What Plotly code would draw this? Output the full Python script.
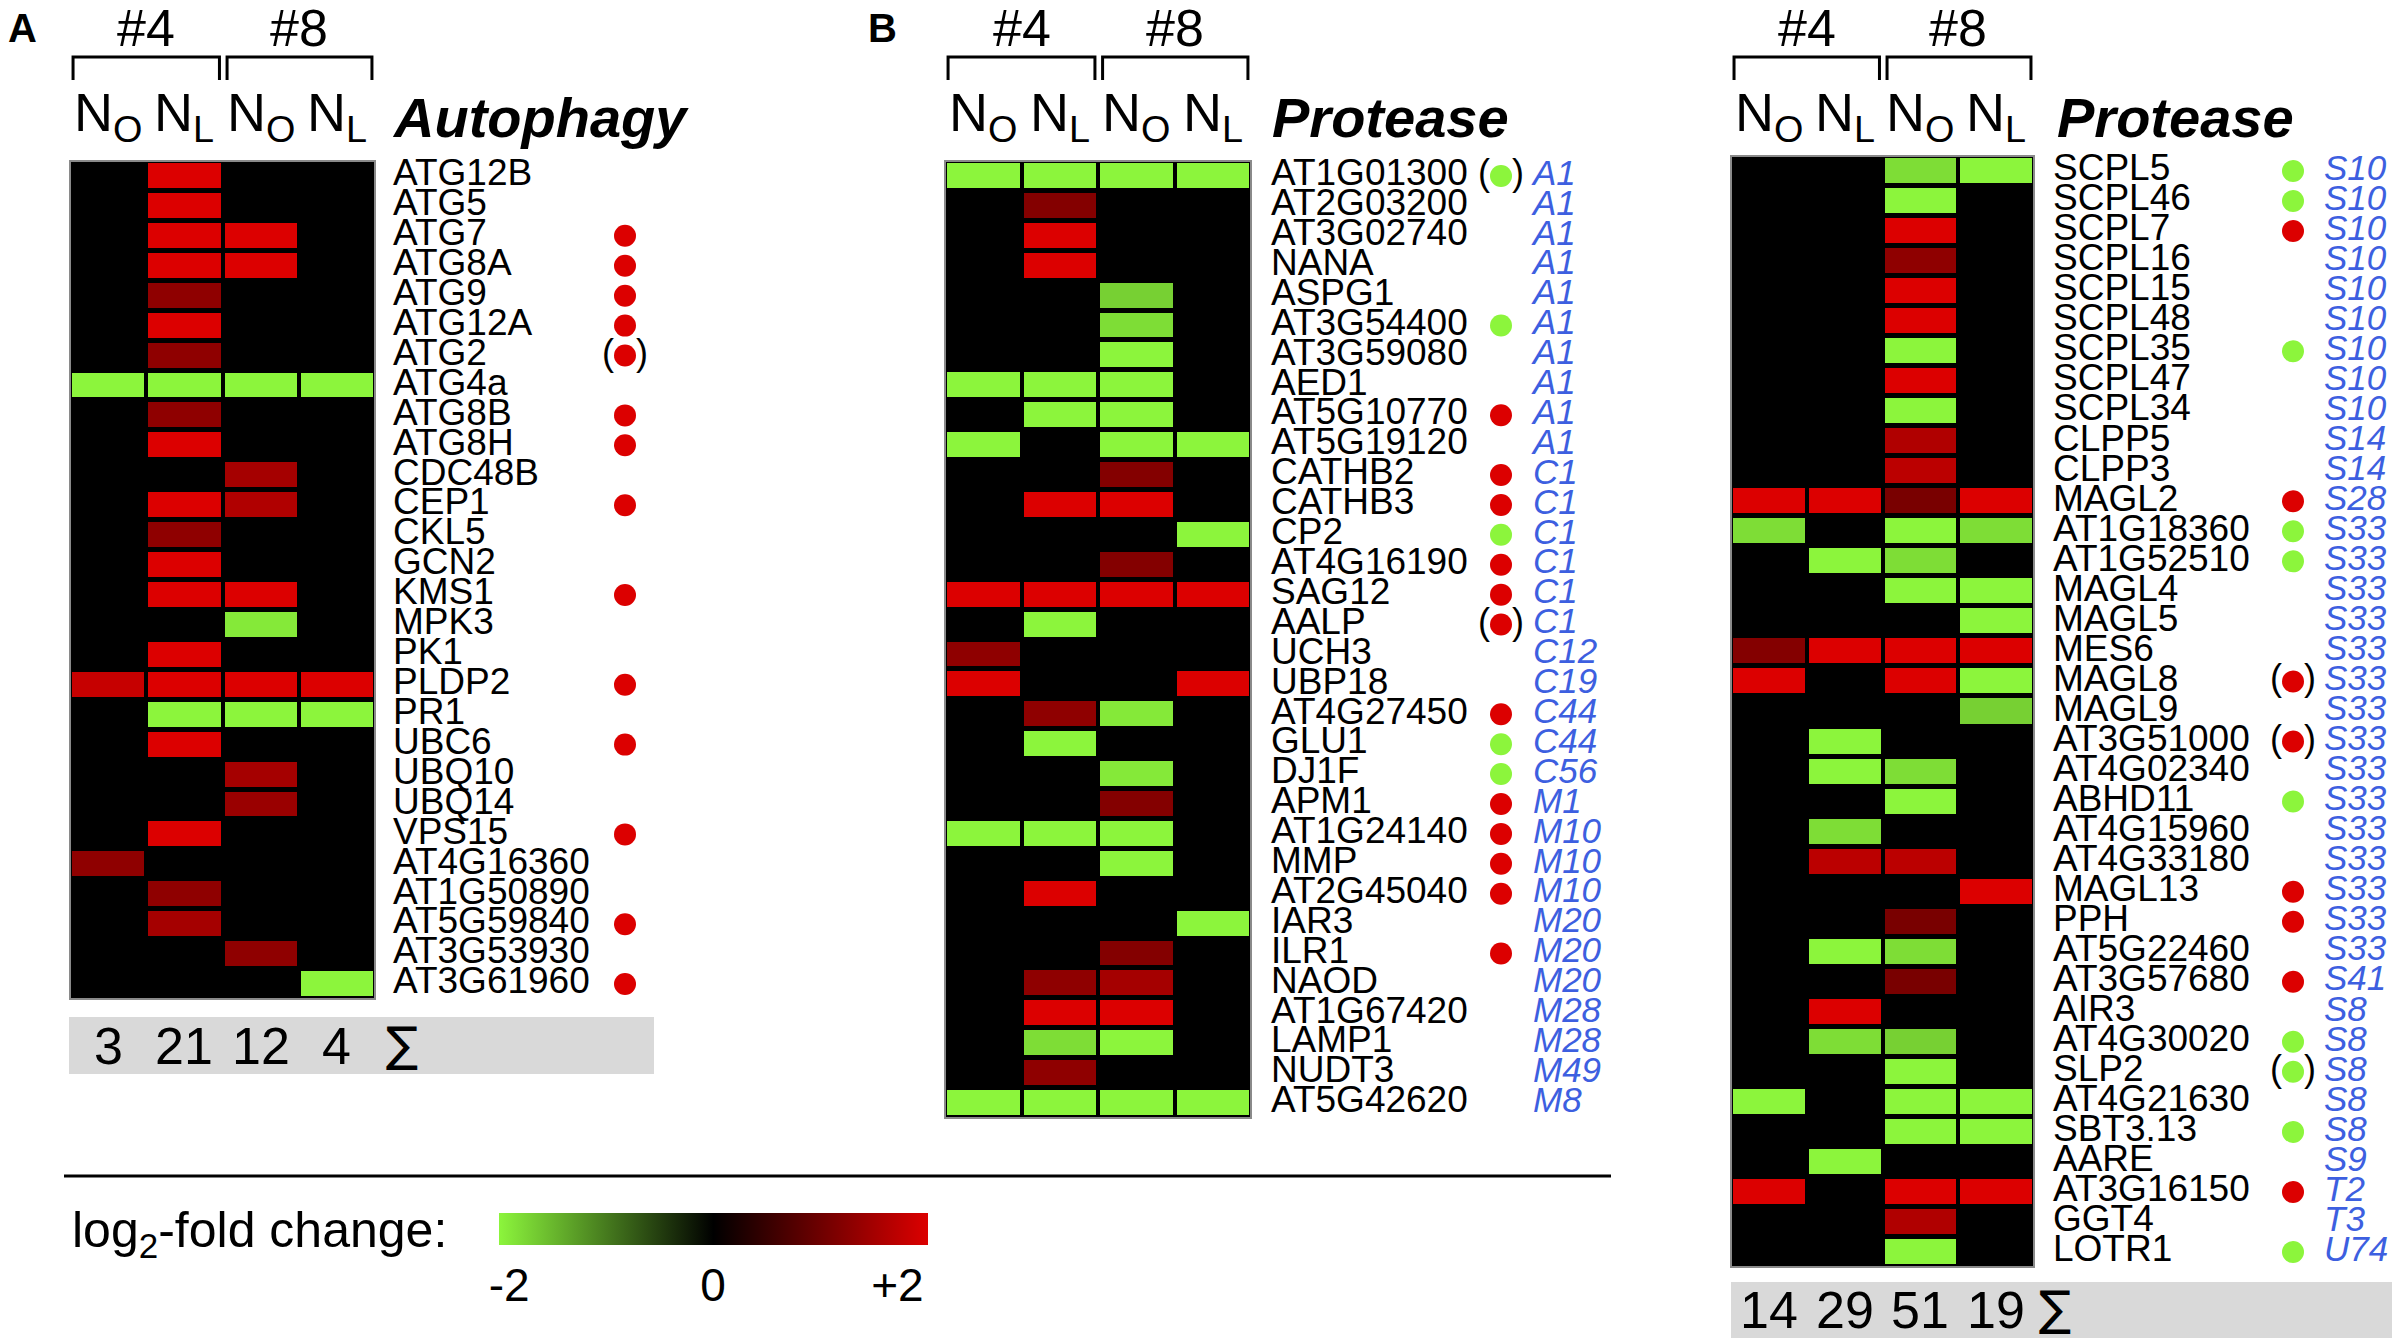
import plotly.graph_objects as go

W, H = 2400, 1343
PAD = 8  # default page margin around the plot div

# four sample columns: line #4 and #8, each N-optimal (NO) and N-limited (NL)
cols = ["#4 NO", "#4 NL", "#8 NO", "#8 NL"]
col_heads = ["N<sub>O</sub>", "N<sub>L</sub>", "N<sub>O</sub>", "N<sub>L</sub>"]
lines = ["#4", "#8"]

# panel A - autophagy
auto_genes = ["ATG12B", "ATG5", "ATG7", "ATG8A", "ATG9", "ATG12A", "ATG2", "ATG4a", "ATG8B", "ATG8H",
              "CDC48B", "CEP1", "CKL5", "GCN2", "KMS1", "MPK3", "PK1", "PLDP2", "PR1", "UBC6",
              "UBQ10", "UBQ14", "VPS15", "AT4G16360", "AT1G50890", "AT5G59840", "AT3G53930", "AT3G61960"]
auto_fc = [
    [0, 2, 0, 0], [0, 2, 0, 0], [0, 2, 2, 0], [0, 2, 2, 0], [0, 1.3, 0, 0],
    [0, 2, 0, 0], [0, 1.3, 0, 0], [-2, -2, -2, -2], [0, 1.3, 0, 0], [0, 2, 0, 0],
    [0, 0, 1.5, 0], [0, 2, 1.6, 0], [0, 1.3, 0, 0], [0, 2, 0, 0], [0, 2, 2, 0],
    [0, 0, -1.9, 0], [0, 2, 0, 0], [1.8, 2, 2, 2], [0, -2, -2, -2], [0, 2, 0, 0],
    [0, 0, 1.5, 0], [0, 0, 1.4, 0], [0, 2, 0, 0], [1.3, 0, 0, 0], [0, 1.3, 0, 0],
    [0, 1.5, 0, 0], [0, 0, 1.3, 0], [0, 0, 0, -2],
]
auto_dot = ["", "", "r", "r", "r", "r", "(r)", "", "r", "r",
            "", "r", "", "", "r", "", "", "r", "", "r",
            "", "", "r", "", "", "r", "", "r"]

# panel B - proteases (first part)
prot_b_genes = ["AT1G01300", "AT2G03200", "AT3G02740", "NANA", "ASPG1", "AT3G54400", "AT3G59080", "AED1",
                "AT5G10770", "AT5G19120", "CATHB2", "CATHB3", "CP2", "AT4G16190", "SAG12", "AALP",
                "UCH3", "UBP18", "AT4G27450", "GLU1", "DJ1F", "APM1", "AT1G24140", "MMP",
                "AT2G45040", "IAR3", "ILR1", "NAOD", "AT1G67420", "LAMP1", "NUDT3", "AT5G42620"]
prot_b_fc = [
    [-2, -2, -2, -2], [0, 1.2, 0, 0], [0, 2, 0, 0], [0, 2, 0, 0], [0, 0, -1.7, 0],
    [0, 0, -1.8, 0], [0, 0, -2, 0], [-2, -2, -2, 0], [0, -2, -2, 0], [-2, 0, -2, -2],
    [0, 0, 1.2, 0], [0, 2, 2, 0], [0, 0, 0, -2], [0, 0, 1.2, 0], [2, 2, 2, 2],
    [0, -2, 0, 0], [1.3, 0, 0, 0], [2, 0, 0, 2], [0, 1.3, -1.9, 0], [0, -2, 0, 0],
    [0, 0, -1.9, 0], [0, 0, 1.2, 0], [-2, -2, -2, 0], [0, 0, -2, 0], [0, 2, 0, 0],
    [0, 0, 0, -2], [0, 0, 1.2, 0], [0, 1.3, 1.5, 0], [0, 2, 2, 0], [0, -1.8, -2, 0],
    [0, 1.3, 0, 0], [-2, -2, -2, -2],
]
prot_b_dot = ["(g)", "", "", "", "", "g", "", "", "r", "", "r", "r", "g", "r", "r", "(r)",
              "", "", "r", "g", "g", "r", "r", "r", "r", "", "r", "", "", "", "", ""]
prot_b_fam = ["A1", "A1", "A1", "A1", "A1", "A1", "A1", "A1", "A1", "A1", "C1", "C1", "C1", "C1", "C1", "C1",
              "C12", "C19", "C44", "C44", "C56", "M1", "M10", "M10", "M10", "M20", "M20", "M20", "M28", "M28",
              "M49", "M8"]

# proteases (second part)
prot_c_genes = ["SCPL5", "SCPL46", "SCPL7", "SCPL16", "SCPL15", "SCPL48", "SCPL35", "SCPL47", "SCPL34",
                "CLPP5", "CLPP3", "MAGL2", "AT1G18360", "AT1G52510", "MAGL4", "MAGL5", "MES6", "MAGL8",
                "MAGL9", "AT3G51000", "AT4G02340", "ABHD11", "AT4G15960", "AT4G33180", "MAGL13", "PPH",
                "AT5G22460", "AT3G57680", "AIR3", "AT4G30020", "SLP2", "AT4G21630", "SBT3.13", "AARE",
                "AT3G16150", "GGT4", "LOTR1"]
prot_c_fc = [
    [0, 0, -1.8, -2], [0, 0, -2, 0], [0, 0, 2, 0], [0, 0, 1.3, 0], [0, 0, 2, 0],
    [0, 0, 2, 0], [0, 0, -2, 0], [0, 0, 2, 0], [0, 0, -2, 0], [0, 0, 1.6, 0],
    [0, 0, 1.7, 0], [2, 2, 1.1, 2], [-1.8, 0, -2, -1.8], [0, -2, -1.8, 0], [0, 0, -2, -2],
    [0, 0, 0, -2], [1.2, 2, 2, 2], [2, 0, 2, -2], [0, 0, 0, -1.7], [0, -2, 0, 0],
    [0, -2, -1.8, 0], [0, 0, -2, 0], [0, -1.8, 0, 0], [0, 1.7, 1.7, 0], [0, 0, 0, 2],
    [0, 0, 1.1, 0], [0, -2, -1.8, 0], [0, 0, 1.1, 0], [0, 2, 0, 0], [0, -1.8, -1.7, 0],
    [0, 0, -2, 0], [-2, 0, -2, -2], [0, 0, -2, -2], [0, -2, 0, 0], [2, 0, 2, 2],
    [0, 0, 1.6, 0], [0, 0, -2, 0],
]
prot_c_dot = ["g", "g", "r", "", "", "", "g", "", "", "", "", "r", "g", "g", "", "", "", "(r)",
              "", "(r)", "", "g", "", "", "r", "r", "", "r", "", "g", "(g)", "", "g", "", "r", "", "g"]
prot_c_fam = ["S10"] * 9 + ["S14", "S14", "S28"] + ["S33"] * 15 + ["S41", "S8", "S8", "S8", "S8", "S8",
                                                                   "S9", "T2", "T3", "U74"]

GREEN = "#8cf53c"
RED = "#dc0000"
BLUE = "#3d5fe0"
FONT = "Liberation Sans, Arial, sans-serif"

FW, FH = W - PAD, H - PAD


def px(x):
    return (x - PAD) / FW


def py(y):
    return 1 - (y - PAD) / FH


fig = go.Figure()

# pixel geometry for the three blocks
panels = [
    dict(genes=auto_genes, fc=auto_fc, dot=auto_dot, fam=None, title="Autophagy", letter="A",
         heat=(70, 375, 161, 999), note_w=330, lab=18, dotx=250, famx=None, letter_x=6, title_x=390),
    dict(genes=prot_b_genes, fc=prot_b_fc, dot=prot_b_dot, fam=prot_b_fam, title="Protease", letter="B",
         heat=(945, 1251, 161, 1118), note_w=350, lab=20, dotx=250, famx=282, letter_x=866, title_x=1270),
    dict(genes=prot_c_genes, fc=prot_c_fc, dot=prot_c_dot, fam=prot_c_fam, title="Protease", letter=None,
         heat=(1731, 2034, 156, 1267), note_w=366, lab=19, dotx=259, famx=290, letter_x=None, title_x=2055),
]

shapes = []
annotations = []
layout_axes = {}

for k, p in enumerate(panels, start=1):
    s = "" if k == 1 else str(k)
    ns = str(k + 3)
    x0, x1, y0, y1 = p["heat"]
    genes = p["genes"]
    n = len(genes)

    fig.add_trace(go.Heatmap(z=p["fc"], x=cols, y=genes, coloraxis="coloraxis", xgap=4, ygap=5,
                             hoverinfo="skip", xaxis="x" + s, yaxis="y" + s))

    layout_axes["xaxis" + s] = dict(domain=[px(x0), px(x1)], range=[-0.5, 3.5], visible=False,
                                    anchor="y" + s, fixedrange=True)
    layout_axes["yaxis" + s] = dict(domain=[py(y1), py(y0)], range=[n - 0.5, -0.5], autorange=False,
                                    visible=False, anchor="x" + s, fixedrange=True)
    layout_axes["xaxis" + ns] = dict(domain=[px(x1), px(min(x1 + p["note_w"], W))], range=[0, p["note_w"]],
                                     visible=False, anchor="y" + s, fixedrange=True)

    # gene names
    fig.add_trace(go.Scatter(x=[p["lab"]] * n, y=genes, mode="text", text=genes,
                             textposition="middle right", cliponaxis=False, hoverinfo="skip",
                             textfont=dict(size=37, color="black", family=FONT),
                             xaxis="x" + ns, yaxis="y" + s))

    # significance dots
    for key, colr in (("r", RED), ("g", GREEN)):
        yy = [g for g, d in zip(genes, p["dot"]) if key in d]
        fig.add_trace(go.Scatter(x=[p["dotx"]] * len(yy), y=yy, mode="markers", cliponaxis=False,
                                 marker=dict(size=22, color=colr, line=dict(width=0)), hoverinfo="skip",
                                 xaxis="x" + ns, yaxis="y" + s))
    yy = [g for g, d in zip(genes, p["dot"]) if "(" in d]
    for off, ch in ((-17, "("), (17, ")")):
        fig.add_trace(go.Scatter(x=[p["dotx"] + off] * len(yy), y=yy, mode="text", text=[ch] * len(yy),
                                 textposition="middle center", cliponaxis=False, hoverinfo="skip",
                                 textfont=dict(size=36, color="black", family=FONT),
                                 xaxis="x" + ns, yaxis="y" + s))

    # peptidase families
    if p["fam"]:
        fig.add_trace(go.Scatter(x=[p["famx"]] * n, y=genes, mode="text",
                                 text=["<i>%s</i>" % f for f in p["fam"]],
                                 textposition="middle right", cliponaxis=False, hoverinfo="skip",
                                 textfont=dict(size=35, color=BLUE, family=FONT),
                                 xaxis="x" + ns, yaxis="y" + s))

    # black field behind the cells
    shapes.append(dict(type="rect", xref="x" + s + " domain", yref="y" + s + " domain",
                       x0=0, x1=1, y0=0, y1=1, fillcolor="black", layer="below",
                       line=dict(color="#8a8a8a", width=2)))

    # column headers and brackets
    for i, h in enumerate(col_heads):
        annotations.append(dict(xref="x" + s, yref="paper", x=i, y=py(116), text=h, showarrow=False,
                                xanchor="center", yanchor="middle",
                                font=dict(size=54, color="black", family=FONT)))
    for j, ln in enumerate(lines):
        a, b = (-0.46, 1.46) if j == 0 else (1.56, 3.46)
        shapes.append(dict(type="path", xref="x" + s, yref="paper",
                           path="M %f,%f L %f,%f L %f,%f L %f,%f" % (a, py(80), a, py(57), b, py(57), b, py(80)),
                           line=dict(color="black", width=3)))
        annotations.append(dict(xref="x" + s, yref="paper", x=2 * j + 0.5, y=py(28), text=ln, showarrow=False,
                                xanchor="center", yanchor="middle",
                                font=dict(size=52, color="black", family=FONT)))

    annotations.append(dict(xref="paper", yref="paper", x=px(p["title_x"]), y=py(118),
                            text="<b><i>%s</i></b>" % p["title"], showarrow=False,
                            xanchor="left", yanchor="middle", font=dict(size=56, color="black", family=FONT)))
    if p["letter"]:
        annotations.append(dict(xref="paper", yref="paper", x=px(p["letter_x"]), y=py(28),
                                text="<b>%s</b>" % p["letter"], showarrow=False,
                                xanchor="left", yanchor="middle", font=dict(size=40, color="black", family=FONT)))

# totals of regulated genes per column
auto_counts = [sum(1 for r in auto_fc if r[i] != 0) for i in range(4)]
prot_counts = [sum(1 for r in prot_b_fc + prot_c_fc if r[i] != 0) for i in range(4)]

for s, counts, (bx0, bx1, by0, by1), sig_x in (("", auto_counts, (69, 654, 1017, 1074), 402),
                                               ("3", prot_counts, (1731, 2400, 1282, 1338), 2055)):
    shapes.append(dict(type="rect", xref="paper", yref="paper", x0=px(bx0), x1=px(bx1),
                       y0=py(by1), y1=py(by0), fillcolor="#d9d9d9", line=dict(width=0), layer="below"))
    yc = py((by0 + by1) / 2)
    for i, c in enumerate(counts):
        annotations.append(dict(xref="x" + s, yref="paper", x=i, y=yc, text=str(c), showarrow=False,
                                xanchor="center", yanchor="middle",
                                font=dict(size=52, color="black", family=FONT)))
    annotations.append(dict(xref="paper", yref="paper", x=px(sig_x), y=py((by0 + by1) / 2 - 2), text="\u2211",
                            showarrow=False, xanchor="center", yanchor="middle",
                            font=dict(size=48, color="black", family="DejaVu Sans")))

# separator line and colour key
shapes.append(dict(type="line", xref="paper", yref="paper", x0=px(64), x1=px(1611), y0=py(1176), y1=py(1176),
                   line=dict(color="black", width=3)))
annotations.append(dict(xref="paper", yref="paper", x=px(70), y=py(1233), text="log<sub>2</sub>-fold change:",
                        showarrow=False, xanchor="left", yanchor="middle",
                        font=dict(size=50, color="black", family=FONT)))

fig.update_layout(
    width=FW, height=FH,
    margin=dict(l=0, r=0, t=0, b=0),
    paper_bgcolor="white", plot_bgcolor="white",
    showlegend=False,
    font=dict(family=FONT, color="black"),
    coloraxis=dict(
        cmin=-2, cmax=2,
        colorscale=[[0, GREEN], [0.5, "black"], [1, RED]],
        colorbar=dict(orientation="h", x=px(713), xanchor="center", y=py(1255), yanchor="middle",
                      len=429, lenmode="pixels", thickness=32, thicknessmode="pixels",
                      tickvals=[-1.9, 0, 1.72], ticktext=["-2", "0", "+2"], ticks="",
                      tickfont=dict(size=46, color="black", family=FONT),
                      outlinewidth=0, xpad=0, ypad=0),
    ),
    shapes=shapes,
    annotations=annotations,
    **layout_axes,
)

fig.write_html("out.html")
